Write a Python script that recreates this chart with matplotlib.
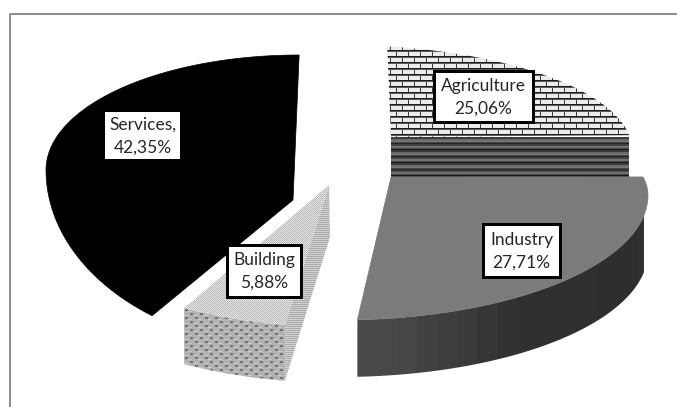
import numpy as np
import matplotlib
matplotlib.use("Agg")
import matplotlib.pyplot as plt
from matplotlib.patches import Polygon, Rectangle

labels = ["Agriculture", "Industry", "Building", "Services"]
values = [25.06, 27.71, 5.88, 42.35]

plt.rcParams["font.family"] = ["Lato", "DejaVu Sans"]

# per slice: apex, rim ellipse centre, radii, start angle and foreshortening of the sweep
geometry = {
    "Agriculture": dict(apex=(391, 137), c=(340, 150), rx=292, up=105, down=105, start=9.3, gain=0.805),
    "Industry": dict(apex=(391, 177), c=(340, 195), rx=308, up=100, down=125, start=79.6, gain=0.974),
    "Building": dict(apex=(329, 185), c=(340, 190), rx=308, up=137, down=137, start=190.3, gain=0.95),
    "Services": dict(apex=(293, 200), c=(299, 170), rx=253, up=115, down=179, start=215.5, gain=0.948),
}


def rim(name, value):
    g = geometry[name]
    phi = np.radians(np.linspace(g["start"], g["start"] + value * 3.6 * g["gain"], 80))
    cos = np.cos(phi)
    ry = np.where(cos > 0, g["up"], g["down"])
    return g["c"][0] + g["rx"] * np.sin(phi), g["c"][1] - ry * cos


def textured(ax, points, texture, zorder):
    # lay a grey texture over the whole canvas, clip it to the face
    patch = Polygon(points, closed=True, fc="none", ec="none", zorder=zorder)
    ax.add_patch(patch)
    xs = [p[0] for p in points]
    ys = [p[1] for p in points]
    x0, x1, y0, y1 = int(min(xs)), int(max(xs)) + 1, int(min(ys)), int(max(ys)) + 1
    h, w = texture.shape
    tiled = np.tile(texture, (((y1 - y0) // h) + 1, ((x1 - x0) // w) + 1))[: y1 - y0, : x1 - x0]
    im = ax.imshow(tiled, cmap="gray", vmin=0, vmax=255, extent=(x0, x1, y1, y0),
                   aspect="auto", interpolation="bilinear", zorder=zorder)
    im.set_clip_path(patch)


brick = np.full((12, 12), 235.0)
brick[[4, 10], :] = 30
brick[[5, 11], :] = 90
brick[:4, 3] = 60
brick[6:10, 9] = 60

stripes = np.array([[62], [58], [105], [112], [118], [70], [38], [62], [72], [115], [110], [72], [22]], dtype=float)

dots = np.array([[230, 185], [185, 230]], dtype=float)
dashes = np.array([[210], [170]], dtype=float)

weave = np.full((8, 10), 178.0)
weave[1:3, 1:4] = 115
weave[5:7, 6:9] = 115
weave[3, 4:8] = 200
weave[7, 0:4] = 200

side_shade = np.array([[74, 72, 70, 66, 62, 58, 54, 50, 48, 48, 48, 48, 46, 46, 48, 50]], dtype=float)

fig = plt.figure(figsize=(6.77, 4.07), dpi=100)
ax = fig.add_axes([0, 0, 1, 1])

# chart frame, cropped on the right and bottom
ax.plot([9.5, 9.5, 677], [407, 14, 14], color="#8c8c8c", lw=1.4, zorder=1)

# Agriculture
x, y = rim("Agriculture", values[0])
ag_apex = geometry["Agriculture"]["apex"]
textured(ax, [(391, 137), (629, 137), (629, 177), (391, 177)], stripes, 2)
textured(ax, [ag_apex] + list(zip(x, y)), brick, 3)

# Industry
x, y = rim("Industry", values[1])
keep = (x < 646) & (y > 215)
side = list(zip(x[keep], y[keep])) + list(zip(x[keep][::-1], y[keep][::-1] + 57))
textured(ax, side, np.repeat(side_shade, 20, axis=1), 4)
ax.add_patch(Polygon([geometry["Industry"]["apex"]] + list(zip(x, y)), closed=True,
                     fc="#7b7b7b", ec="#7b7b7b", lw=0.5, zorder=5))

# Building
x, y = rim("Building", values[2])
apex = geometry["Building"]["apex"]
textured(ax, [apex, (x[0], y[0]), (x[0], y[0] + 56), (apex[0] + 1, apex[1] + 52)], dashes, 4)
textured(ax, list(zip(x, y)) + list(zip(x[::-1], y[::-1] + 56)), weave, 5)
textured(ax, [apex] + list(zip(x, y)), dots, 6)

# Services
x, y = rim("Services", values[3])
ax.add_patch(Polygon([geometry["Services"]["apex"]] + list(zip(x, y)), closed=True,
                     fc="black", ec="black", lw=0.5, zorder=4))

# data labels
label_boxes = {
    "Agriculture": (434, 71, 533, 122, 3.0),
    "Industry": (483, 224, 560, 277, 3.0),
    "Building": (227, 245, 301, 297, 3.0),
    "Services": (105, 112, 180, 159, 0),
}
for name, value in zip(labels, values):
    x0, y0, x1, y1, lw = label_boxes[name]
    ax.add_patch(Rectangle((x0, y0), x1 - x0, y1 - y0, fc="white",
                           ec="black" if lw else "white", lw=lw * 0.72, zorder=8))
    sep = "," if name == "Services" else ""
    text = f"{name}{sep}\n" + f"{value:.2f}".replace(".", ",") + "%"
    ax.text((x0 + x1) / 2, (y0 + y1) / 2 + 0.5, text, ha="center", va="center",
            fontsize=12.5, color="#262626", linespacing=1.5, zorder=9)

ax.set_xlim(0, 677)
ax.set_ylim(407, 0)
ax.axis("off")

fig.savefig("out.png", dpi=100)
